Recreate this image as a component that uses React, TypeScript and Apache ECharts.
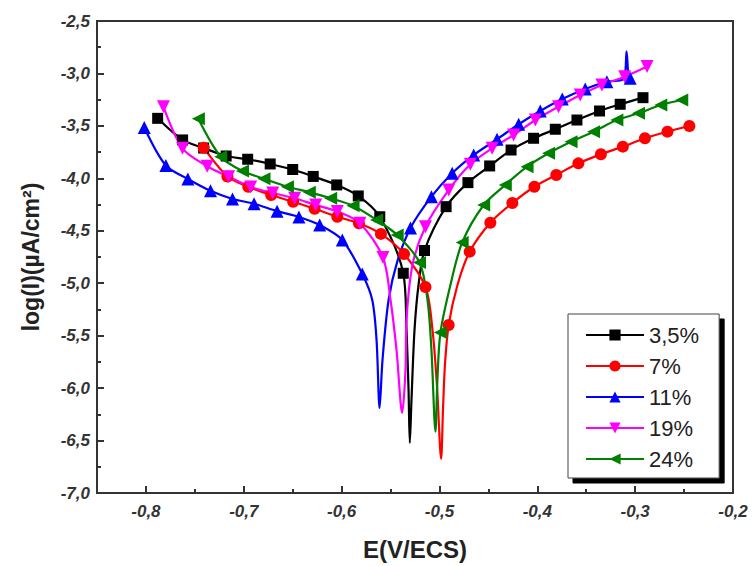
import React, { useEffect, useRef } from "react";
import * as echarts from "echarts";

// ---- data (E in V/ECS, log I) ; M: 1 = point drawn with a marker ----
const seriesNames = ["3,5%", "7%", "11%", "19%", "24%"];
const seriesColors = ["#000000", "#ff0000", "#0000ff", "#ff00ff", "#008000"];

const E35 = [-0.788, -0.7625, -0.741, -0.718, -0.696, -0.673, -0.65, -0.629, -0.605, -0.583, -0.561, -0.537, -0.5337, -0.5316, -0.5303, -0.5286, -0.5255, -0.5214, -0.5153, -0.4932, -0.4709, -0.4487, -0.4268, -0.4038, -0.3816, -0.3595, -0.3364, -0.3153, -0.292];
const I35 = [-3.428, -3.634, -3.711, -3.787, -3.818, -3.863, -3.916, -3.982, -4.063, -4.168, -4.366, -4.905, -5.446, -6.018, -6.523, -6.113, -5.446, -5.017, -4.688, -4.27, -4.041, -3.882, -3.73, -3.618, -3.532, -3.444, -3.358, -3.294, -3.231];
const M35 = [1, 1, 1, 1, 1, 1, 1, 1, 1, 1, 1, 1, 0, 0, 0, 0, 0, 0, 1, 1, 1, 1, 1, 1, 1, 1, 1, 1, 1];

const E7 = [-0.741, -0.7167, -0.6954, -0.672, -0.6495, -0.6276, -0.6044, -0.5823, -0.5598, -0.5362, -0.5143, -0.5071, -0.5026, -0.4983, -0.4964, -0.4944, -0.4906, -0.4816, -0.4691, -0.448, -0.4255, -0.403, -0.3806, -0.358, -0.335, -0.3126, -0.29, -0.267, -0.2446];
const I7 = [-3.708, -3.982, -4.08, -4.159, -4.223, -4.29, -4.366, -4.428, -4.53, -4.721, -5.036, -5.446, -5.97, -6.675, -6.208, -5.779, -5.398, -5.017, -4.699, -4.423, -4.235, -4.08, -3.968, -3.857, -3.771, -3.698, -3.618, -3.555, -3.501];
const M7 = [1, 1, 1, 1, 1, 1, 1, 1, 1, 1, 1, 0, 0, 0, 0, 0, 1, 0, 1, 1, 1, 1, 1, 1, 1, 1, 1, 1, 1];

const E11 = [-0.8017, -0.7796, -0.7571, -0.734, -0.7115, -0.6895, -0.666, -0.6436, -0.6224, -0.5993, -0.5789, -0.5687, -0.5643, -0.5612, -0.5582, -0.552, -0.5432, -0.5296, -0.5082, -0.487, -0.465, -0.4411, -0.419, -0.397, -0.3745, -0.351, -0.3289, -0.3115, -0.3088, -0.3068, -0.3051];
const I11 = [-3.515, -3.878, -4.006, -4.119, -4.197, -4.242, -4.313, -4.368, -4.445, -4.588, -4.912, -5.16, -5.541, -6.189, -5.73, -5.16, -4.797, -4.473, -4.175, -3.952, -3.777, -3.627, -3.484, -3.358, -3.244, -3.148, -3.079, -3.05, -2.79, -3.03, -3.046];
const M11 = [1, 1, 1, 1, 1, 1, 1, 1, 1, 1, 1, 0, 0, 0, 0, 0, 0, 1, 1, 1, 1, 1, 1, 1, 1, 1, 1, 0, 0, 0, 1];

const E19 = [-0.7821, -0.7626, -0.7374, -0.7155, -0.6929, -0.6704, -0.648, -0.6265, -0.6044, -0.5813, -0.5577, -0.55, -0.5439, -0.5381, -0.5347, -0.5337, -0.5276, -0.5143, -0.4905, -0.4684, -0.4462, -0.4242, -0.402, -0.3783, -0.3561, -0.334, -0.3107, -0.2878];
const I19 = [-3.317, -3.714, -3.885, -3.984, -4.082, -4.14, -4.19, -4.254, -4.316, -4.428, -4.755, -5.16, -5.636, -6.237, -5.827, -5.35, -4.826, -4.461, -4.111, -3.866, -3.713, -3.587, -3.444, -3.317, -3.205, -3.11, -3.031, -2.934];
const M19 = [1, 1, 1, 1, 1, 1, 1, 1, 1, 1, 1, 0, 0, 0, 0, 0, 0, 1, 1, 1, 1, 1, 1, 1, 1, 1, 1, 1];

const E24 = [-0.7464, -0.7235, -0.7013, -0.6793, -0.6554, -0.633, -0.6112, -0.5883, -0.5643, -0.5432, -0.5204, -0.5122, -0.5082, -0.5041, -0.5021, -0.499, -0.4888, -0.4768, -0.4548, -0.4327, -0.4105, -0.3885, -0.3655, -0.3425, -0.3187, -0.2966, -0.2738, -0.2524];
const I24 = [-3.432, -3.794, -3.93, -4.004, -4.08, -4.132, -4.19, -4.262, -4.397, -4.54, -4.802, -5.16, -5.636, -6.415, -5.92, -5.47, -5.017, -4.612, -4.254, -4.063, -3.889, -3.761, -3.651, -3.555, -3.444, -3.38, -3.301, -3.253];
const M24 = [1, 1, 1, 1, 1, 1, 1, 1, 1, 1, 1, 0, 0, 0, 0, 1, 0, 1, 1, 1, 1, 1, 1, 1, 1, 1, 1, 1];

const xMajorTicks = [-0.8, -0.7, -0.6, -0.5, -0.4, -0.3, -0.2];
const xMinorTicks = [-0.75, -0.65, -0.55, -0.45, -0.35, -0.25];

const allE = [E35, E7, E11, E19, E24];
const allI = [I35, I7, I11, I19, I24];
const allM = [M35, M7, M11, M19, M24];
const symbols = ["rect", "circle", "triangle", "triangle", "triangle"];
const rotations = [0, 0, 0, 180, 90];
const sizes = [11, 12, 13, 13, 13];

const fmt = (v: number) => v.toFixed(1).replace(".", ",");
const FONT = "Liberation Sans";

export default function App() {
  const ref = useRef<HTMLDivElement>(null);
  useEffect(() => {
    if (!ref.current) return;
    const chart = echarts.init(ref.current, undefined, { renderer: "svg" });
    const series = seriesNames.map((name, k) => ({
      name,
      type: "line",
      xAxisIndex: 0,
      yAxisIndex: 0,
      symbol: symbols[k],
      symbolRotate: rotations[k],
      symbolSize: sizes[k],
      showSymbol: true,
      smooth: 0.3,
      color: seriesColors[k],
      lineStyle: { width: 2.2, color: seriesColors[k] },
      itemStyle: { color: seriesColors[k] },
      data: allE[k].map((e, i) =>
        allM[k][i] ? { value: [e, allI[k][i]] } : { value: [e, allI[k][i]], symbol: "none" }
      ),
    }));
    chart.setOption({
      animation: false,
      backgroundColor: "#ffffff",
      grid: {
        left: 97,
        right: 20,
        top: 21,
        bottom: 73,
        show: true,
        borderColor: "#333",
        borderWidth: 2,
        backgroundColor: "transparent",
      },
      legend: {
        orient: "vertical",
        left: 568,
        top: 314,
        itemWidth: 58,
        itemHeight: 14,
        itemGap: 9,
        padding: [10, 20, 8, 17],
        borderColor: "#444",
        borderWidth: 1,
        backgroundColor: "#ffffff",
        shadowColor: "#000",
        shadowBlur: 0,
        shadowOffsetX: 5,
        shadowOffsetY: 5,
        textStyle: { fontSize: 22, color: "#222", fontFamily: FONT },
        data: seriesNames,
      },
      xAxis: [
        {
          type: "value",
          min: -0.85,
          max: -0.2,
          name: "E(V/ECS)",
          nameLocation: "middle",
          nameGap: 44,
          nameTextStyle: { fontSize: 24, fontWeight: "bold", color: "#222", fontFamily: FONT },
          axisLine: { show: true, lineStyle: { color: "#333", width: 2 } },
          axisTick: { show: true, inside: true, length: 7, lineStyle: { color: "#333", width: 2 }, customValues: xMajorTicks },
          axisLabel: {
            show: true,
            customValues: xMajorTicks,
            formatter: (v: number) => fmt(v),
            fontSize: 17,
            fontWeight: "bold",
            fontStyle: "italic",
            color: "#333",
            fontFamily: FONT,
            margin: 10,
          },
          splitLine: { show: false },
        },
        {
          type: "value",
          min: -0.85,
          max: -0.2,
          position: "bottom",
          axisLine: { show: false },
          axisTick: { show: true, inside: true, length: 4, lineStyle: { color: "#333", width: 2 }, customValues: xMinorTicks },
          axisLabel: { show: false },
          splitLine: { show: false },
        },
      ],
      yAxis: {
        type: "value",
        min: -7,
        max: -2.5,
        interval: 0.5,
        name: "log(I)(µA/cm²)",
        nameLocation: "middle",
        nameGap: 55,
        nameTextStyle: { fontSize: 23, fontWeight: "bold", color: "#222", fontFamily: FONT },
        axisLine: { show: true, lineStyle: { color: "#333", width: 2 } },
        axisTick: { show: true, inside: true, length: 7, lineStyle: { color: "#333", width: 2 } },
        minorTick: { show: true, splitNumber: 2, length: 4, lineStyle: { color: "#333", width: 2 } },
        axisLabel: {
          formatter: (v: number) => fmt(v),
          fontSize: 17,
          fontWeight: "bold",
          fontStyle: "italic",
          color: "#333",
          fontFamily: FONT,
          margin: 7,
        },
        splitLine: { show: false },
      },
      series,
    });
    return () => chart.dispose();
  }, []);
  return (
    <div
      ref={ref}
      style={{ position: "fixed", left: 0, top: 0, width: 753, height: 566, background: "#fff" }}
    />
  );
}
